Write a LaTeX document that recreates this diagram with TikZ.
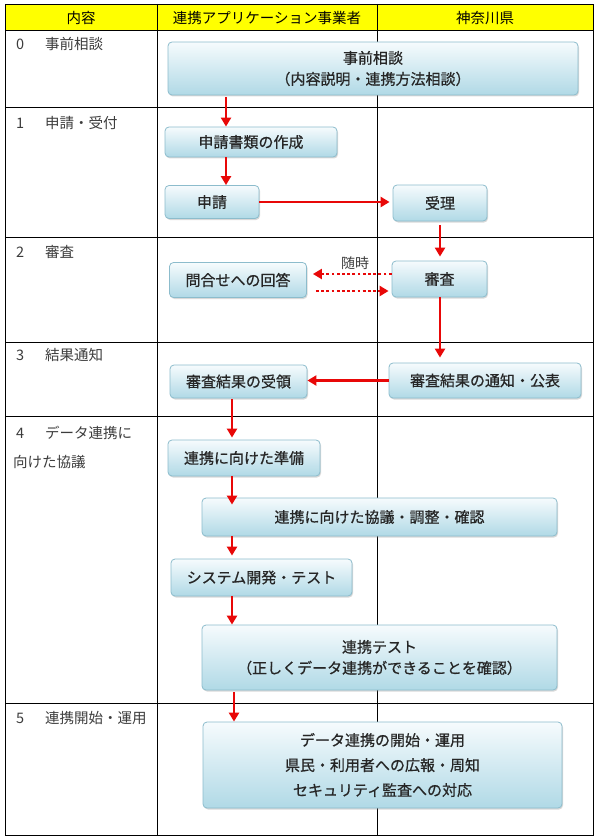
\documentclass[tikz,border=0pt]{standalone}
\usepackage{fontspec}
\setmainfont{Noto Sans CJK JP}
\newfontfamily\boxfont[FakeBold=0.7]{Noto Sans CJK JP}
\usepackage{tikz}
\usetikzlibrary{positioning,arrows.meta,shadows}
\definecolor{flowred}{RGB}{232,8,8}
\definecolor{boxedge}{RGB}{140,188,204}
\definecolor{boxtop}{RGB}{246,251,253}
\definecolor{boxbottom}{RGB}{176,217,230}
\definecolor{headyellow}{RGB}{255,255,0}
\definecolor{labelgray}{RGB}{60,60,60}

\begin{document}
\begin{tikzpicture}[x=1pt,y=-1pt,
				flowbox/.style={rectangle, rounded corners=4pt, draw=boxedge, line width=0.8pt, top color=boxtop, bottom color=boxbottom, drop shadow={shadow xshift=1pt, shadow yshift=-1.5pt, opacity=0.3, fill=gray}, inner sep=0pt, align=center, font=\boxfont\fontsize{15}{21}\selectfont, text=black!85},
				rowlabel/.style={anchor=west, inner sep=0pt, align=left, font=\fontsize{14.5}{29}\selectfont, text=labelgray},
				headlabel/.style={inner sep=0pt, font=\fontsize{14.5}{18}\selectfont},
				flowline/.style={draw=flowred, line width=2.8pt, -{Triangle[length=9pt,width=10pt]}},
				askline/.style={flowline, dash pattern=on 2.8pt off 2.4pt},
				]
				\useasboundingbox (0,0) rectangle (600,837);

				%Table
				\fill[headyellow] (5,4) rectangle (593,30);
				\draw[line width=0.8pt] (5,4) rectangle (593,835);
				\foreach \y in {30,107,237,342,416,703} \draw[line width=0.8pt] (5,\y) -- (593,\y);
				\foreach \x in {157,377} \draw[line width=0.8pt] (\x,4) -- (\x,835);

				\node[headlabel] (hcontent) at (81,18) {内容};
				\node[headlabel] (hvendor) at (267,18) {連携アプリケーション事業者};
				\node[headlabel] (hpref) at (485,18) {神奈川県};

				\node[rowlabel] (r0) at (16,44) {\makebox[29pt][l]{0}事前相談};
				\node[rowlabel] (r1) at (16,123) {\makebox[29pt][l]{1}申請・受付};
				\node[rowlabel] (r2) at (16,252) {\makebox[29pt][l]{2}審査};
				\node[rowlabel] (r3) at (16,355) {\makebox[29pt][l]{3}結果通知};
				\node[rowlabel] (r4) at (13,447.5) {\makebox[32pt][l]{\hspace{3pt}4}データ連携に\\向けた協議};
				\node[rowlabel] (r5) at (16,718) {\makebox[29pt][l]{5}連携開始・運用};

				%Nodes
				\node[flowbox, minimum width=410pt, minimum height=53pt] (consult) at (373,68.5) {事前相談\\（内容説明・連携方法相談）};
				\node[flowbox, minimum width=172pt, minimum height=30pt] (papers) at (251,142) {申請書類の作成};
				\node[flowbox, minimum width=94pt, minimum height=33pt] (apply) at (212,202) {申請};
				\node[flowbox, minimum width=94pt, minimum height=36pt] (accept) at (440,203) {受理};
				\node[flowbox, minimum width=137pt, minimum height=35pt] (answer) at (238,280) {問合せへの回答};
				\node[flowbox, minimum width=95pt, minimum height=36pt] (review) at (439.5,279) {審査};
				\node[flowbox, minimum width=137pt, minimum height=33pt] (receive) at (238.5,381.5) {審査結果の受領};
				\node[flowbox, minimum width=192pt, minimum height=35pt] (notify) at (485,380.5) {審査結果の通知・公表};
				\node[flowbox, minimum width=152pt, minimum height=36pt] (prepare) at (244,458) {連携に向けた準備};
				\node[flowbox, minimum width=355pt, minimum height=38pt] (discuss) at (379.5,517) {連携に向けた協議・調整・確認};
				\node[flowbox, minimum width=181pt, minimum height=37pt] (develop) at (261.5,577.5) {システム開発・テスト};
				\node[flowbox, minimum width=355pt, minimum height=65pt] (linktest) at (379.5,657.5) {連携テスト\\（正しくデータ連携ができることを確認）};
				\node[flowbox, minimum width=359pt, minimum height=86pt, font=\boxfont\fontsize{15}{25}\selectfont] (launch) at (382.5,765) {データ連携の開始・運用\\県民・利用者への広報・周知\\セキュリティ監査への対応};
				\node[inner sep=0pt, font=\fontsize{14}{16}\selectfont, text=labelgray] (anytime) at (355,263) {随時};

				%Lines
				\coordinate (laneA) at (226,0);
				\coordinate (laneB) at (232,0);
				\coordinate (laneC) at (440,0);
				\coordinate (laneD) at (234,0);
				\draw[flowline, shorten <=2pt] (consult.south -| laneA) -- (papers.north -| laneA);
				\draw[flowline] (papers.south -| laneA) -- (apply.north -| laneA);
				\draw[flowline, shorten >=3pt] (apply.east) -- (accept.west |- apply.east);
				\draw[flowline, shorten <=4pt, shorten >=4pt] (accept.south -| laneC) -- (review.north -| laneC);
				\draw[askline, shorten >=6pt] ([yshift=5pt]review.west) -- ([yshift=5pt]review.west -| answer.east);
				\draw[askline, shorten <=9pt, shorten >=3pt] ([yshift=-12pt]review.west -| answer.east) -- ([yshift=-12pt]review.west);
				\draw[flowline, shorten >=5pt] (review.south -| laneC) -- (notify.north -| laneC);
				\draw[flowline] (notify.west) -- (notify.west -| receive.east);
				\draw[flowline, shorten <=1pt, shorten >=2pt] (receive.south -| laneB) -- (prepare.north -| laneB);
				\draw[flowline] (prepare.south -| laneB) -- ([yshift=-7pt]discuss.north -| laneB);
				\draw[flowline, shorten >=3pt] (discuss.south -| laneB) -- (develop.north -| laneB);
				\draw[flowline] (develop.south -| laneB) -- (linktest.north -| laneB);
				\draw[flowline, shorten <=2pt] (linktest.south -| laneD) -- (launch.north -| laneD);
\end{tikzpicture}
\end{document}
